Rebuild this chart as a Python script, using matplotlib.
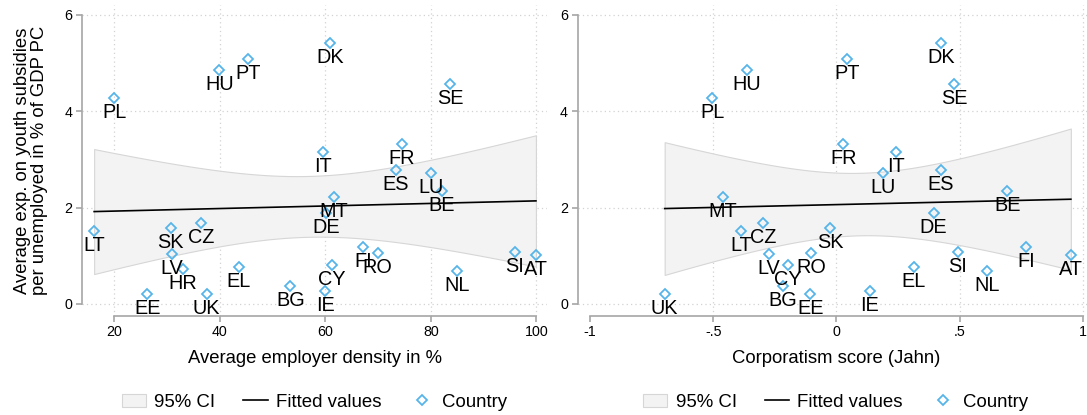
import numpy as np
import matplotlib
matplotlib.use("Agg")
import matplotlib.pyplot as plt
from matplotlib.patches import Patch
from matplotlib.lines import Line2D

plt.rcParams["font.family"] = ["Liberation Sans", "DejaVu Sans"]

# ------------------------------------------
# DATA
# ------------------------------------------
countries = ["PL", "HU", "PT", "DK", "SE", "IT", "FR", "ES", "LU", "BE",
             "MT", "DE", "FI", "RO", "CY", "IE", "BG", "NL", "SI", "AT",
             "LT", "SK", "CZ", "LV", "HR", "EL", "EE", "UK"]
youth_exp = [4.27, 4.86, 5.07, 5.42, 4.56, 3.15, 3.31, 2.77, 2.71, 2.34,
             2.21, 1.88, 1.18, 1.05, 0.80, 0.26, 0.38, 0.68, 1.07, 1.02,
             1.51, 1.57, 1.67, 1.04, 0.72, 0.76, 0.20, 0.20]
employer_density = [20.0, 39.9, 45.4, 60.9, 83.7, 59.5, 74.5, 73.4, 80.0, 82.1,
                    61.6, 60.2, 67.2, 69.9, 61.2, 60.0, 53.4, 85.0, 95.9, 99.9,
                    16.2, 30.7, 36.5, 30.9, 33.0, 43.6, 26.3, 37.5]
# corporatism score, HR has none
corporatism = [-0.503, -0.362, 0.045, 0.426, 0.479, 0.241, 0.028, 0.425, 0.188, 0.694,
               -0.461, 0.395, 0.770, -0.101, -0.198, 0.135, -0.216, 0.610, 0.492, 0.952,
               -0.388, -0.024, -0.299, -0.275, np.nan, 0.315, -0.106, -0.697]

BLUE = "#56B4E9"
GRAY = "#A6A6A6"


def fit_ci(x, y, t):
    x = np.asarray(x)
    y = np.asarray(y)
    n = len(x)
    b, a = np.polyfit(x, y, 1)
    resid = y - (a + b * x)
    s = np.sqrt(np.sum(resid ** 2) / (n - 2))
    sxx = np.sum((x - x.mean()) ** 2)
    xs = np.linspace(x.min(), x.max(), 200)
    yhat = a + b * xs
    se = s * np.sqrt(1.0 / n + (xs - x.mean()) ** 2 / sxx)
    return xs, yhat, yhat - t * se, yhat + t * se


def panel(ax, x, y, labels, t, xticks, xticklabels, xlim, xgrid, xtitle):
    x = np.asarray(x, dtype=float)
    y = np.asarray(y, dtype=float)
    ok = ~np.isnan(x)
    xs, yhat, lo, hi = fit_ci(x[ok], y[ok], t)

    for g in [0, 2, 4, 6]:
        ax.axhline(g, color="#D2D2D2", lw=0.9, ls=(0, (1, 2.5)), zorder=0)
    for g in xgrid:
        ax.axvline(g, color="#D2D2D2", lw=0.9, ls=(0, (1, 2.5)), zorder=0)

    ax.fill_between(xs, lo, hi, facecolor="#F3F3F3", edgecolor="#D6D6D6", lw=0.8, zorder=1)
    ax.plot(xs, yhat, color="black", lw=1.2, zorder=2)
    ax.plot(x[ok], y[ok], ls="none", marker="D", ms=5.5, mfc="none", mec=BLUE, mew=1.3, zorder=3)
    for xi, yi, lab in zip(x[ok], y[ok], np.asarray(labels)[ok]):
        ax.annotate(lab, (xi, yi), xytext=(0, -14.4), textcoords="offset points",
                    ha="center", va="baseline", fontsize=14.3, zorder=4)

    ax.set_xlim(*xlim)
    ax.set_ylim(-0.243, 6.2)
    ax.set_yticks([0, 2, 4, 6])
    ax.set_yticklabels(["0", "2", "4", "6"])
    ax.set_xticks(xticks)
    ax.set_xticklabels(xticklabels)
    for side in ["top", "right"]:
        ax.spines[side].set_visible(False)
    for side in ["left", "bottom"]:
        ax.spines[side].set_color(GRAY)
        ax.spines[side].set_linewidth(1.2)
    ax.spines["left"].set_bounds(0, 6)
    ax.spines["bottom"].set_bounds(xticks[0], xticks[-1])
    ax.tick_params(direction="out", length=4.5, width=1.2, color=GRAY, labelsize=10.3, pad=2.5)
    ax.text(0.5, -0.153, xtitle, transform=ax.transAxes, ha="center", va="baseline", fontsize=13.3)

    handles = [Patch(facecolor="#F3F3F3", edgecolor="#D6D6D6", lw=0.8),
               Line2D([], [], color="black", lw=1.2),
               Line2D([], [], ls="none", marker="D", ms=5.5, mfc="none", mec=BLUE, mew=1.3)]
    ax.legend(handles, ["95% CI", "Fitted values", "Country"], loc="center",
              bbox_to_anchor=(0.5, -0.278), ncol=3, frameon=False, fontsize=13.4,
              handlelength=1.3, handletextpad=0.45, columnspacing=1.5)


fig = plt.figure(figsize=(10.87, 4.15), dpi=100)
ax1 = fig.add_axes([82 / 1087, 1 - 315.7 / 415, 465 / 1087, 310.7 / 415])
ax2 = fig.add_axes([577.7 / 1087, 1 - 315.7 / 415, 516.3 / 1087, 310.7 / 415])

panel(ax1, employer_density, youth_exp, countries, 2.0555,
      [20, 40, 60, 80, 100], ["20", "40", "60", "80", "100"], (13.9, 102.0),
      [20, 40, 60, 80, 100], "Average employer density in %")
panel(ax2, corporatism, youth_exp, countries, 2.0595,
      [-1, -0.5, 0, 0.5, 1], ["-1", "-.5", "0", ".5", "1"], (-1.05, 1.046),
      [-0.5, 0, 0.5, 1], "Corporatism score (Jahn)")

ax1.text(-0.11, 0.5, "Average exp. on youth subsidies\nper unemployed in % of GDP PC",
         transform=ax1.transAxes, rotation=90, ha="center", va="center",
         fontsize=13.3, multialignment="center", linespacing=1.0)

fig.savefig("out.png", dpi=100)
plt.close()
